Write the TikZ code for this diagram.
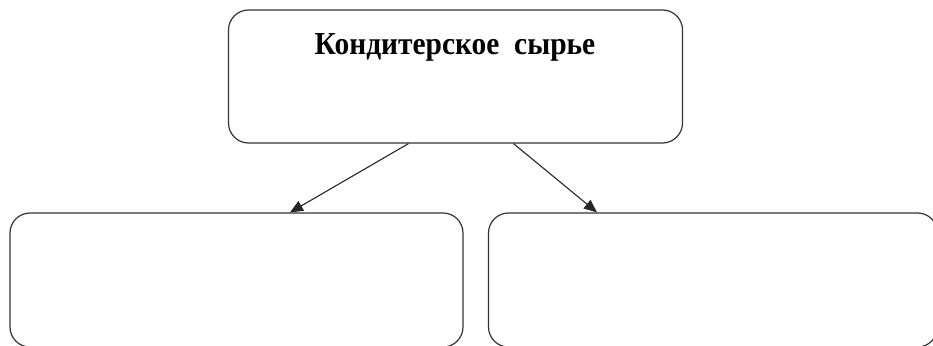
\documentclass[tikz,border=0pt]{standalone}
\usepackage{fontspec}
\setmainfont{Liberation Serif}
\usetikzlibrary{arrows.meta}
\begin{document}
\begin{tikzpicture}[x=1pt,y=-1pt,
  box/.style={draw=black!80,line width=1.2pt,rounded corners=20pt,inner sep=0pt,fill=white},
  conn/.style={draw=black!85,line width=1.1pt,-{Triangle[length=13pt,width=11pt]}}]
\useasboundingbox (0,0) rectangle (933,345);
\clip (0,0) rectangle (933,345);
\node[box,minimum width=454pt,minimum height=133pt] (top) at (455.5,76.5) {};
\node[anchor=base,inner sep=0pt] (title) at (455,55) {\scalebox{0.92}[1]{\fontsize{32pt}{36pt}\selectfont\bfseries Кондитерское\ \ сырье}};
\node[box,minimum width=453pt,minimum height=134pt] (left) at (236.5,280) {};
\node[box,minimum width=449pt,minimum height=134pt] (right) at (713,280) {};
\path (top.south) ++(-47,0) coordinate (s1);
\path (top.south) ++(58,0) coordinate (s2);
\path (left.north) ++(53.5,0) coordinate (e1);
\path (right.north) ++(-116,0) coordinate (e2);
\draw[conn] (s1) -- (e1);
\draw[conn] (s2) -- (e2);
\end{tikzpicture}
\end{document}
